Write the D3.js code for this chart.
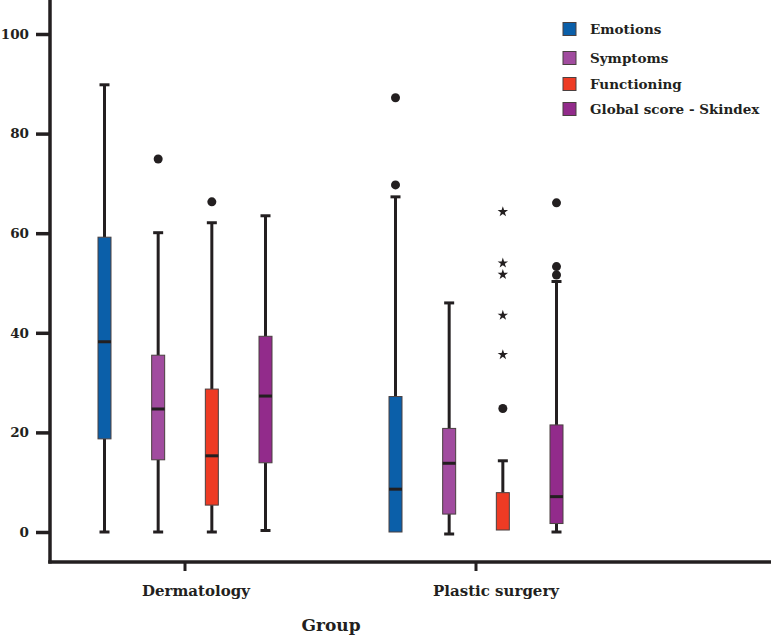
<!DOCTYPE html>
<html>
<head>
<meta charset="utf-8">
<script src="https://cdn.jsdelivr.net/npm/d3@7"></script>
<style>
  body { margin: 0; background: #fff; }
  svg text { font-family: "DejaVu Serif", "Liberation Serif", serif; fill: #231f20; }
</style>
</head>
<body>
<svg id="canvas" width="771" height="636"></svg>
<script>
// data
var groups = ["Dermatology", "Plastic surgery"];
var series = ["Emotions", "Symptoms", "Functioning", "Global score - Skindex"];
var colors = ["#0b5fa9", "#a14c9f", "#ee3b24", "#922b8b"];
var yTicks = [0, 20, 40, 60, 80, 100];

// [whisker low, q1, median, q3, whisker high] per group, per series
var dermStats = [
  [0, 18.7, 38.2, 59.2, 89.8],
  [0, 14.5, 24.7, 35.5, 60.1],
  [0, 5.4, 15.3, 28.7, 62.1],
  [0.3, 13.9, 27.3, 39.3, 63.5]
];
var plasticStats = [
  [0, 0, 8.6, 27.2, 67.3],
  [-0.4, 3.6, 13.8, 20.8, 46.0],
  [0.4, 0.4, null, 7.9, 14.3],
  [0, 1.7, 7.1, 21.5, 50.3]
];
// outliers (circles) and extremes (stars)
var dermOutliers = [[], [74.9], [66.3], []];
var plasticOutliers = [[87.2, 69.7], [], [24.8], [66.1, 53.3, 51.6]];
var plasticExtremes = [[], [], [64.3, 54.0, 51.7, 43.5, 35.6], []];

var stats = [dermStats, plasticStats];
var outliers = [dermOutliers, plasticOutliers];
var extremes = [[[], [], [], []], plasticExtremes];

var svg = d3.select("#canvas");
var ink = "#231f20";

var y = d3.scaleLinear().domain([0, 100]).range([532, 34]);
var x0 = d3.scalePoint().domain(groups).range([185, 476]);
var x1 = d3.scalePoint().domain(series).range([-80.5, 80.5]);
var boxW = 13, capW = 10;

// y axis
var yAxis = d3.axisLeft(y).tickValues(yTicks).tickSize(14).tickPadding(7);
var gy = svg.append("g").attr("transform", "translate(50,0)").call(yAxis);
gy.select(".domain").remove();
gy.selectAll(".tick line").attr("stroke", ink).attr("stroke-width", 3.5);
gy.selectAll(".tick text").style("font-size", "13.5px").style("font-weight", "bold")
  .style("font-family", "'DejaVu Serif', serif");
svg.append("line").attr("x1", 50).attr("x2", 50).attr("y1", 0).attr("y2", 563.5)
  .attr("stroke", ink).attr("stroke-width", 3.5);

// x axis
svg.append("line").attr("x1", 48.25).attr("x2", 771).attr("y1", 562).attr("y2", 562)
  .attr("stroke", ink).attr("stroke-width", 3.5);
groups.forEach(function(g) {
  svg.append("line").attr("x1", x0(g)).attr("x2", x0(g)).attr("y1", 562).attr("y2", 571)
    .attr("stroke", ink).attr("stroke-width", 3);
  svg.append("text").text(g).attr("x", x0(g) - 43).attr("y", 596)
    .style("font-size", "15px").style("font-weight", "bold");
});
svg.append("text").text("Group").attr("x", 331).attr("y", 631)
  .attr("text-anchor", "middle").style("font-size", "17px").style("font-weight", "bold");

// boxes
groups.forEach(function(g, gi) {
  series.forEach(function(s, si) {
    var d = stats[gi][si];
    var cx = x0(g) + x1(s);
    var gBox = svg.append("g");
    // whiskers
    gBox.append("line").attr("x1", cx).attr("x2", cx).attr("y1", y(d[4])).attr("y2", y(d[3]))
      .attr("stroke", ink).attr("stroke-width", 3);
    gBox.append("line").attr("x1", cx).attr("x2", cx).attr("y1", y(d[1])).attr("y2", y(d[0]))
      .attr("stroke", ink).attr("stroke-width", 3);
    gBox.append("line").attr("x1", cx - capW / 2).attr("x2", cx + capW / 2).attr("y1", y(d[4])).attr("y2", y(d[4]))
      .attr("stroke", ink).attr("stroke-width", 3);
    if (d[0] < d[1]) {
      gBox.append("line").attr("x1", cx - capW / 2).attr("x2", cx + capW / 2).attr("y1", y(d[0])).attr("y2", y(d[0]))
        .attr("stroke", ink).attr("stroke-width", 3);
    }
    gBox.append("rect").attr("x", cx - boxW / 2).attr("width", boxW)
      .attr("y", y(d[3])).attr("height", y(d[1]) - y(d[3]))
      .attr("fill", colors[si]).attr("stroke", "#4a4040").attr("stroke-width", 1);
    if (d[2] !== null) {
      gBox.append("line").attr("x1", cx - boxW / 2).attr("x2", cx + boxW / 2).attr("y1", y(d[2])).attr("y2", y(d[2]))
        .attr("stroke", ink).attr("stroke-width", 3);
    }
    outliers[gi][si].forEach(function(v) {
      gBox.append("circle").attr("cx", cx).attr("cy", y(v)).attr("r", 4.5).attr("fill", ink);
    });
    extremes[gi][si].forEach(function(v) {
      gBox.append("path").attr("d", d3.symbol().type(d3.symbolStar).size(34)())
        .attr("transform", "translate(" + cx + "," + y(v) + ")").attr("fill", ink);
    });
  });
});

// legend
var legendY = [29, 58, 84, 109];
series.forEach(function(s, i) {
  svg.append("rect").attr("x", 563).attr("y", legendY[i] - 6.5).attr("width", 13).attr("height", 13)
    .attr("fill", colors[i]).attr("stroke", "#4a4040").attr("stroke-width", 1);
  svg.append("text").text(s).attr("x", 590).attr("y", legendY[i] + 5)
    .style("font-size", "13.5px").style("font-weight", "bold");
});
</script>
</body>
</html>
